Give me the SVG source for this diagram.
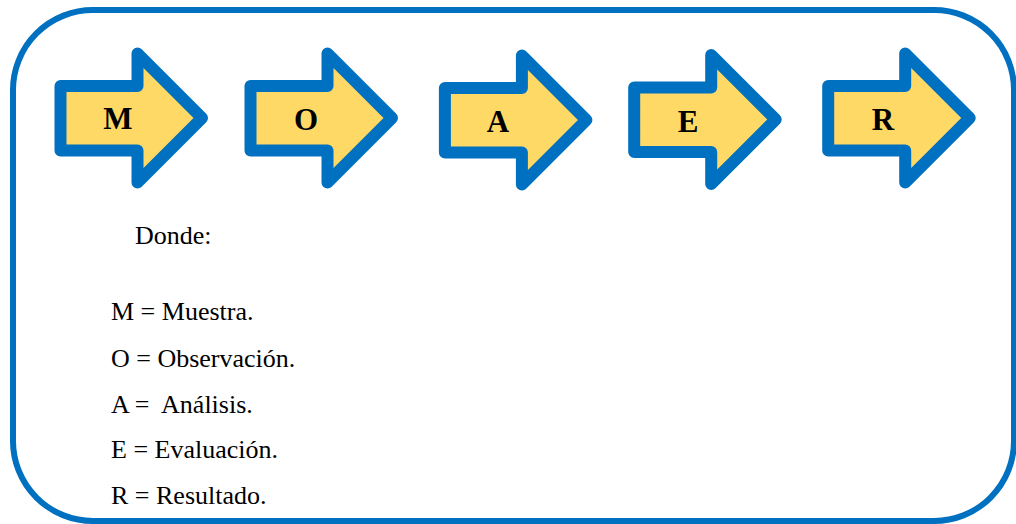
<svg xmlns="http://www.w3.org/2000/svg" width="1016" height="524" viewBox="0 0 1016 524">
  <style>
    .frame { fill: #ffffff; stroke: #0070C0; stroke-width: 6; }
    .arrow { fill: #FFD966; stroke: #0070C0; stroke-width: 12; stroke-linejoin: round; }
    .lbl { font-family: 'Liberation Serif', Tinos, 'Times New Roman', 'DejaVu Serif', serif; font-weight: bold; font-size: 31px; fill: #000; text-anchor: middle; }
    .txt { font-family: 'Liberation Serif', Tinos, 'Times New Roman', 'DejaVu Serif', serif; font-size: 26px; fill: #000; }
  </style>
  <defs>
    <path id="arrowShape" d="M60.5,86 H137.5 V53.5 L202,118 L137.5,182.5 V150.5 H60.5 Z"/>
  </defs>
  <rect class="frame" x="13" y="10" width="1001" height="511" rx="80" ry="80"/>
  <g id="connectors"></g>
  <g id="node-M">
    <use href="#arrowShape" class="arrow"/>
    <text class="lbl" x="118" y="129">M</text>
  </g>
  <g id="node-O">
    <use href="#arrowShape" class="arrow" transform="translate(190,0)"/>
    <text class="lbl" x="306" y="130">O</text>
  </g>
  <g id="node-A">
    <use href="#arrowShape" class="arrow" transform="translate(384.4,2)"/>
    <text class="lbl" x="498" y="131.5">A</text>
  </g>
  <g id="node-E">
    <use href="#arrowShape" class="arrow" transform="translate(573.7,1.5)"/>
    <text class="lbl" x="688" y="131.5">E</text>
  </g>
  <g id="node-R">
    <use href="#arrowShape" class="arrow" transform="translate(767.7,0)"/>
    <text class="lbl" x="883" y="130">R</text>
  </g>
  <g id="legend">
    <text class="txt" x="135" y="243.5">Donde:</text>
    <text class="txt" x="111" y="320">M = Muestra.</text>
    <text class="txt" x="111" y="366.5">O = Observación.</text>
    <text class="txt" x="111" y="412.5" xml:space="preserve">A =  Análisis.</text>
    <text class="txt" x="111" y="458">E = Evaluación.</text>
    <text class="txt" x="111" y="504">R = Resultado.</text>
  </g>
</svg>
